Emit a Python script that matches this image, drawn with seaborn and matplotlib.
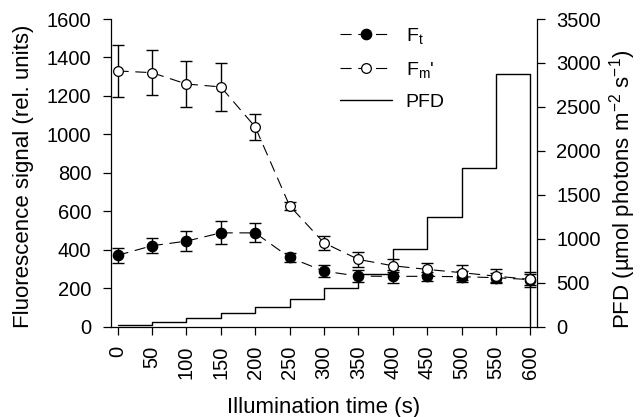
import numpy as np
import pandas as pd
import matplotlib
matplotlib.use('Agg')
import matplotlib.pyplot as plt
import seaborn as sns

# illumination time (s)
time_s = [0, 50, 100, 150, 200, 250, 300, 350, 400, 450, 500, 550, 600]

# Ft and Fm' (rel. units) with error bars
ft = [371, 421, 445, 488, 488, 360, 289, 263, 262, 262, 260, 255, 245]
ft_err = [40, 38, 52, 60, 50, 23, 31, 30, 35, 25, 30, 25, 30]
fm = [1330, 1321, 1262, 1247, 1039, 629, 436, 350, 317, 298, 281, 263, 246]
fm_err = [137, 118, 119, 125, 68, 20, 37, 41, 35, 31, 38, 35, 37]

# PFD steps (umol photons m-2 s-1), each level held until next time point
pfd_time = [0, 50, 100, 150, 200, 250, 300, 350, 400, 450, 500, 550, 600]
pfd_level = [20, 50, 100, 160, 225, 315, 445, 605, 885, 1250, 1805, 2880, 0]

sns.set_style('ticks')
plt.rcParams['font.family'] = ['Liberation Sans', 'DejaVu Sans']
plt.rcParams['mathtext.default'] = 'regular'
plt.rcParams.update({
    'xtick.labelsize': 14.5, 'ytick.labelsize': 14.5, 'axes.labelsize': 16,
    'legend.fontsize': 14, 'axes.linewidth': 0.9,
    'text.color': 'black', 'axes.labelcolor': 'black',
    'xtick.color': 'black', 'ytick.color': 'black', 'axes.edgecolor': 'black',
    'xtick.major.size': 5.5, 'ytick.major.size': 5.5,
    'xtick.major.width': 0.9, 'ytick.major.width': 0.9,
    'xtick.direction': 'out', 'ytick.direction': 'out',
})

df = pd.DataFrame({'time': time_s, 'ft': ft, 'ft_err': ft_err,
                   'fm': fm, 'fm_err': fm_err})
df_pfd = pd.DataFrame({'time': pfd_time, 'pfd': pfd_level})

fig = plt.figure(figsize=(6.41, 4.17), dpi=100)
ax = fig.add_axes([0.1727, 0.2165, 0.6655, 0.7379])
ax2 = ax.twinx()

dash = (0, (10, 6))

ax.errorbar(df['time'], df['ft'], yerr=df['ft_err'], fmt='none', ecolor='black',
            elinewidth=1.0, capsize=4, capthick=1.0, zorder=1)
sns.lineplot(data=df, x='time', y='ft', ax=ax, color='black', lw=0.8, linestyle=dash,
             marker='o', markersize=7.5, markerfacecolor='black', markeredgecolor='black',
             markeredgewidth=0.9, label=r'F$_t$', legend=False, zorder=3)

ax.errorbar(df['time'], df['fm'], yerr=df['fm_err'], fmt='none', ecolor='black',
            elinewidth=1.0, capsize=4, capthick=1.0, zorder=1)
sns.lineplot(data=df, x='time', y='fm', ax=ax, color='black', lw=0.8, linestyle=dash,
             marker='o', markersize=7, markerfacecolor='white', markeredgecolor='black',
             markeredgewidth=0.9, label=r"F$_m$'", legend=False, zorder=4)

sns.lineplot(data=df_pfd, x='time', y='pfd', ax=ax2, color='black', lw=1.0,
             drawstyle='steps-post', label='PFD', legend=False)

# points on top of the step line
ax.set_zorder(ax2.get_zorder() + 1)
ax.patch.set_visible(False)

ax.set_xlim(-10, 610)
ax.set_ylim(0, 1600)
ax2.set_ylim(0, 3500)
ax.set_xticks(time_s)
ax.set_xticklabels([str(t) for t in time_s], rotation=90)
ax.set_yticks(np.arange(0, 1601, 200))
ax2.set_yticks(np.arange(0, 3501, 500))
ax.tick_params(axis='y', pad=8.5)
ax.tick_params(axis='x', pad=8)
ax2.tick_params(axis='y', pad=8)

ax.set_xlabel('Illumination time (s)')
ax.set_ylabel('Fluorescence signal (rel. units)')
ax2.set_ylabel(r'PFD (µmol photons m$^{-2}$ s$^{-1}$)')
ax.xaxis.set_label_coords(0.498, -0.228)
ax.yaxis.set_label_coords(-0.18, 0.49)
ax2.yaxis.set_label_coords(1.163, 0.445)

ax.spines['top'].set_visible(False)
ax.spines['right'].set_visible(False)
ax2.spines['top'].set_visible(False)
ax2.spines['left'].set_visible(False)
ax2.spines['bottom'].set_visible(False)

h1, l1 = ax.get_legend_handles_labels()
h2, l2 = ax2.get_legend_handles_labels()
fig.legend(h1 + h2, l1 + l2, loc='upper left', bbox_to_anchor=(0.53, 0.937),
           frameon=False, borderpad=0, borderaxespad=0, handlelength=2.7,
           handletextpad=0.7, labelspacing=0.7, numpoints=1)

plt.savefig('out.png', dpi=100)
